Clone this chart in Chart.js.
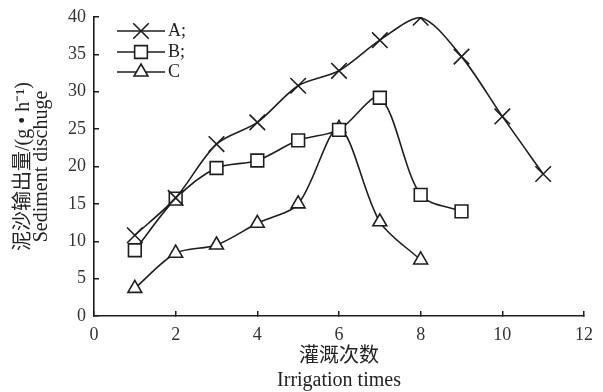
<!DOCTYPE html>
<html><head><meta charset="utf-8">
<script src="https://cdn.jsdelivr.net/npm/chart.js@4/dist/chart.umd.min.js"></script>
<style>html,body{margin:0;padding:0;background:#fff}#wrap{width:603px;height:392px;position:relative}</style>
</head><body><div id="wrap"><canvas id="c"></canvas></div>
<script>
const irrigationTimes = [1,2,3,4,5,6,7,8,9,10,11];
const seriesA = [10.8,15.8,23.0,25.9,30.8,32.8,36.9,39.9,34.7,26.7,19.0];
const seriesB = [8.8,15.7,19.8,20.8,23.5,24.9,29.2,16.2,14.0];
const seriesC = [3.7,8.4,9.5,12.4,15.0,25.1,12.6,7.5];
const seriesNames = ['A;','B;','C'];
const xTickLabels = [0,2,4,6,8,10,12];
const yTickLabels = [0,5,10,15,20,25,30,35,40];
const yTitle = ['泥沙输出量/(g • h⁻¹)','Sediment dischuge'];
const xTitle = ['灌溉次数','Irrigation times'];

const INK = '#1e1e1e';
const FONT = '"Liberation Serif","Noto Sans CJK SC",serif';
const toPts = (vals) => vals.map((v,i)=>({x:irrigationTimes[i], y:v}));
const styles = [
  {pointStyle:'crossRot', pointRadius:11},
  {pointStyle:'rect', pointRadius:9},
  {pointStyle:'triangle', pointRadius:8}
];
const datasets = [seriesA, seriesB, seriesC].map((s,i)=>({
  label: seriesNames[i],
  data: toPts(s),
  borderColor: INK,
  backgroundColor: '#fff',
  borderWidth: 1.6,
  pointBorderColor: INK,
  pointBackgroundColor: '#fff',
  pointBorderWidth: 1.6,
  pointStyle: styles[i].pointStyle,
  pointRadius: styles[i].pointRadius,
  tension: 0.3,
  fill: false
}));

const legendPlugin = {
  id: 'lineLegend',
  afterDraw(chart){
    const ctx = chart.ctx;
    const rowsY = [31, 52, 72];
    chart.data.datasets.forEach((ds,i)=>{
      const y = rowsY[i];
      ctx.save();
      ctx.strokeStyle = INK; ctx.lineWidth = 1.6;
      ctx.beginPath(); ctx.moveTo(117,y); ctx.lineTo(165,y); ctx.stroke();
      ctx.fillStyle = '#fff';
      Chart.helpers.drawPoint(ctx, {pointStyle: ds.pointStyle, radius: ds.pointRadius, borderWidth: 1.6, rotation: 0}, 141, y);
      ctx.restore();
      ctx.save();
      ctx.fillStyle = INK; ctx.font = '18px ' + FONT;
      ctx.textBaseline = 'middle'; ctx.textAlign = 'left';
      ctx.fillText(ds.label, 168, y);
      ctx.restore();
    });
  }
};

new Chart(document.getElementById('c'), {
  type: 'line',
  data: { datasets },
  plugins: [legendPlugin],
  options: {
    responsive: true, maintainAspectRatio: false, animation: false,
    layout: { padding: {top: 17, right: 19, left: 0, bottom: 0} },
    plugins: { legend: {display:false}, tooltip: {enabled:false} },
    scales: {
      x: {
        type: 'linear', min: 0, max: 12,
        afterBuildTicks: (s)=>{ s.ticks = xTickLabels.map(v=>({value:v})); },
        afterFit: (s)=>{ s.height = 76; s.paddingLeft = 0; s.paddingRight = 0; },
        grid: { display: true, drawOnChartArea: false, drawTicks: true, tickLength: -5, color: INK, lineWidth: 1.5 },
        border: { display: true, color: INK, width: 1.6 },
        ticks: { color: '#333', font: {family: FONT, size: 18}, padding: 13, maxRotation: 0 },
        title: { display: true, text: xTitle, color: '#222', font: {family: FONT, size: 20, lineHeight: 1.2}, padding: {top: 0, bottom: -1} }
      },
      y: {
        type: 'linear', min: 0, max: 40,
        afterBuildTicks: (s)=>{ s.ticks = yTickLabels.map(v=>({value:v})); },
        afterFit: (s)=>{ s.width = 94; s.paddingTop = 0; s.paddingBottom = 0; },
        grid: { display: true, drawOnChartArea: false, drawTicks: true, tickLength: -5, color: INK, lineWidth: 1.5 },
        border: { display: true, color: INK, width: 1.6 },
        ticks: { color: '#333', font: {family: FONT, size: 18}, padding: 13 },
        title: { display: true, text: yTitle, color: '#222', font: {family: FONT, size: 20, lineHeight: 0.9}, padding: {top: 15, bottom: 0} }
      }
    }
  }
});
</script>
</body></html>
